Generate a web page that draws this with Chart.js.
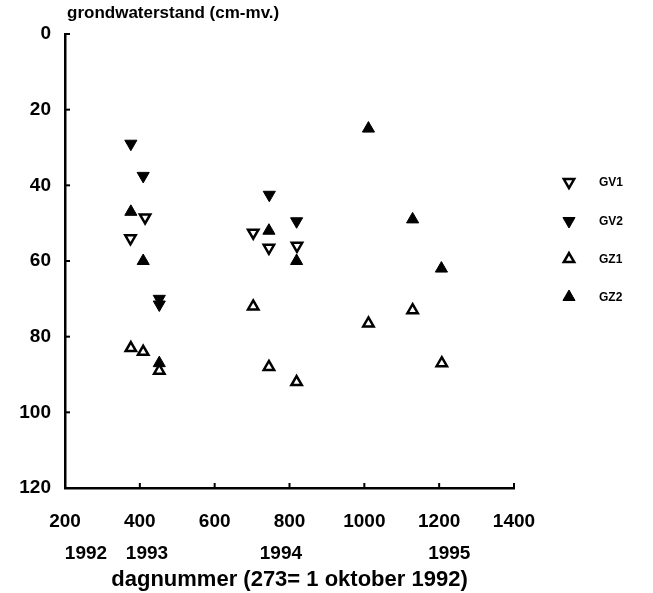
<!DOCTYPE html>
<html>
<head>
<meta charset="utf-8">
<script src="https://cdn.jsdelivr.net/npm/chart.js@4.4.0/dist/chart.umd.min.js"></script>
<style>
  html, body { margin: 0; padding: 0; background: #fff; }
  #wrap { width: 653px; height: 593px; }
</style>
</head>
<body>
<div id="wrap"><canvas id="chart" width="653" height="593"></canvas></div>
<script>
// groundwater depth (cm below surface) per day number
const gv1Days = [375, 414, 703, 745, 820];
const gv1Depth = [54, 48.5, 52.5, 56.5, 56];

const gv2Days = [376, 409, 452, 452, 746, 819];
const gv2Depth = [29, 37.5, 70, 71.5, 42.5, 49.5];

const gz1Days = [376, 409, 452, 703, 745, 819, 1011, 1129, 1207];
const gz1Depth = [83, 84, 89, 72, 88, 92, 76.5, 73, 87];

const gz2Days = [376, 409, 452, 745, 819, 1011, 1129, 1206];
const gz2Depth = [47, 60, 87, 52, 60, 25, 49, 62];

const yearLabels = ['1992', '1993', '1994', '1995'];
const yearDays = [256, 419, 777, 1227];

const seriesNames = ['GV1', 'GV2', 'GZ1', 'GZ2'];

const FONT = "'Liberation Sans', Arial, sans-serif";

function toPoints(days, vals) {
    return days.map((d, i) => ({ x: d, y: vals[i] }));
}

function series(label, days, vals, filled, down) {
    return {
        label: label,
        data: toPoints(days, vals),
        showLine: false,
        pointStyle: 'triangle',
        rotation: down ? 180 : 0,
        pointRadius: filled ? 7 : 6,
        pointBackgroundColor: filled ? '#000' : '#fff',
        pointBorderColor: '#000',
        pointBorderWidth: filled ? 1 : 2.5,
        pointHoverRadius: filled ? 7 : 6
    };
}

// small inward tick marks, the y title and the legend at the right
const extras = {
    id: 'extras',
    afterDraw(chart) {
        const ctx = chart.ctx;
        const xs = chart.scales.x;
        const ys = chart.scales.y;
        ctx.save();
        ctx.strokeStyle = '#000';
        ctx.lineWidth = 2;
        xs.ticks.forEach(t => {
            const px = xs.getPixelForValue(t.value);
            ctx.beginPath();
            ctx.moveTo(px, ys.bottom);
            ctx.lineTo(px, ys.bottom - 5);
            ctx.stroke();
        });
        ys.ticks.forEach(t => {
            const py = ys.getPixelForValue(t.value);
            ctx.beginPath();
            ctx.moveTo(xs.left, py);
            ctx.lineTo(xs.left + 5, py);
            ctx.stroke();
        });

        ctx.fillStyle = '#000';
        ctx.font = 'bold 17px ' + FONT;
        ctx.textAlign = 'left';
        ctx.textBaseline = 'middle';
        ctx.fillText('grondwaterstand (cm-mv.)', 67, 13);

        // legend
        const legendY = [182, 221, 259, 297];
        chart.data.datasets.forEach((ds, i) => {
            ctx.fillStyle = ds.pointBackgroundColor;
            ctx.strokeStyle = ds.pointBorderColor;
            ctx.lineWidth = ds.pointBorderWidth;
            Chart.helpers.drawPoint(ctx, {
                pointStyle: ds.pointStyle,
                rotation: ds.rotation,
                radius: ds.pointRadius,
                borderWidth: ds.pointBorderWidth
            }, 569, legendY[i]);
            ctx.fillStyle = '#000';
            ctx.font = 'bold 12px ' + FONT;
            ctx.textAlign = 'left';
            ctx.textBaseline = 'middle';
            ctx.fillText(seriesNames[i], 599, legendY[i] + 1);
        });
        ctx.restore();
    }
};

new Chart(document.getElementById('chart'), {
    type: 'scatter',
    data: {
        datasets: [
            series(seriesNames[0], gv1Days, gv1Depth, false, true),
            series(seriesNames[1], gv2Days, gv2Depth, true, true),
            series(seriesNames[2], gz1Days, gz1Depth, false, false),
            series(seriesNames[3], gz2Days, gz2Depth, true, false)
        ]
    },
    options: {
        responsive: false,
        animation: false,
        layout: { padding: { top: 34, right: 139, left: 0, bottom: 0 } },
        plugins: {
            legend: { display: false },
            tooltip: { enabled: false }
        },
        scales: {
            x: {
                type: 'linear',
                position: 'bottom',
                weight: 0,
                min: 200,
                max: 1400,
                grid: { display: false, drawTicks: false },
                border: { display: true, color: '#000', width: 2.5 },
                ticks: {
                    stepSize: 200,
                    padding: 22,
                    color: '#000',
                    font: { family: FONT, size: 19, weight: 'bold' },
                    callback: (v) => String(v)
                },
                afterFit(scale) { scale.height = 50; }
            },
            x2: {
                type: 'linear',
                position: 'bottom',
                weight: 1,
                min: 200,
                max: 1400,
                grid: { display: false, drawTicks: false },
                border: { display: false },
                afterBuildTicks(axis) {
                    axis.ticks = yearDays.map(v => ({ value: v }));
                },
                ticks: {
                    autoSkip: false,
                    maxRotation: 0,
                    padding: 4,
                    color: '#000',
                    font: { family: FONT, size: 19, weight: 'bold' },
                    callback: (v) => {
                        const i = yearDays.indexOf(v);
                        return i >= 0 ? yearLabels[i] : '';
                    }
                },
                title: {
                    display: true,
                    text: 'dagnummer (273= 1 oktober 1992)',
                    color: '#000',
                    padding: { top: 0, bottom: 0 },
                    font: { family: FONT, size: 22, weight: 'bold' }
                },
                afterFit(scale) { scale.height = 55; }
            },
            y: {
                type: 'linear',
                reverse: true,
                min: 0,
                max: 120,
                grid: { display: false, drawTicks: false },
                border: { display: true, color: '#000', width: 2.5 },
                ticks: {
                    stepSize: 20,
                    padding: 14,
                    color: '#000',
                    font: { family: FONT, size: 19, weight: 'bold' }
                },
                afterFit(scale) { scale.width = 65; }
            }
        }
    },
    plugins: [extras]
});
</script>
</body>
</html>
